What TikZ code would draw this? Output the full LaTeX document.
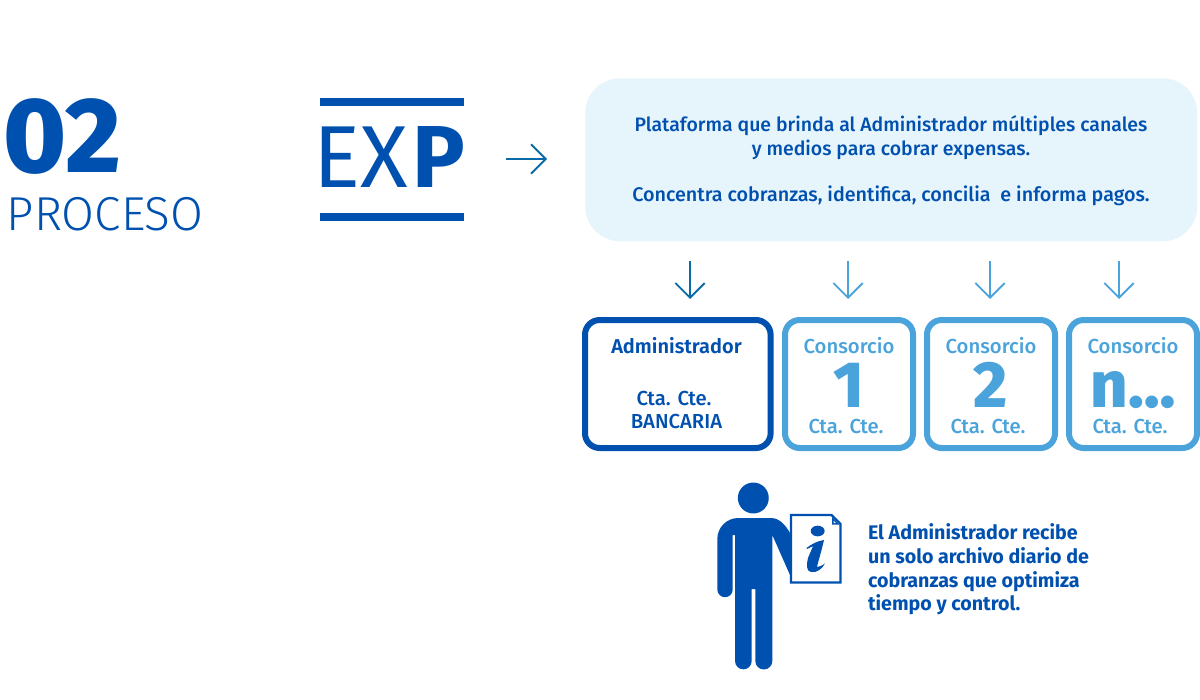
\documentclass[tikz,border=0pt]{standalone}
\usepackage{fontspec}
\setmainfont{Fira Sans}
\newfontfamily\flight{Fira Sans Light}
\newfontfamily\fsemi{Fira Sans SemiBold}
\newfontfamily\fmed{Fira Sans Medium}
\newfontfamily\fxb{Fira Sans ExtraBold}
\usetikzlibrary{arrows.meta}
\definecolor{dblue}{HTML}{0050AF}
\definecolor{lblue}{HTML}{4AA3DA}
\definecolor{panel}{HTML}{E6F4FB}
\definecolor{arrowd}{HTML}{0A6AA8}
\newcommand{\fs}[1]{\fontsize{#1}{#1}\selectfont}
\tikzset{
 x=0.75pt,y=-0.75pt,
 txt/.style={inner sep=0,outer sep=0,text=dblue,align=center},
 acct/.style={draw=dblue,line width=4.5pt,rounded corners=11pt,fill=white,inner sep=0},
 cons/.style={draw=lblue,line width=4.5pt,rounded corners=11pt,fill=white,inner sep=0},
 flow/.style={line width=1.4pt,-{Straight Barb[length=11pt,width=22pt,angle'=90,line width=1.4pt]}},
 rulebar/.style={fill=dblue,draw=none},
}
\begin{document}
\begin{tikzpicture}
\useasboundingbox (0,0) rectangle (1200,700);
% heading
\node[txt,font=\fxb\fs{80},anchor=base west] (num) at (3,172) {02};
\node[txt,font=\flight\fs{35.7},anchor=base west] (proc) at (7,230) {PROCESO};
% EXP
\fill[rulebar] (320,98) rectangle (464,106);
\fill[rulebar] (320,213) rectangle (464,221);
\node[txt,font=\fs{66},anchor=base west] (ex) at (313,187) {EX};
\node[txt,font=\fs{66}\bfseries,anchor=base west] (pp) at (412,187) {P};
% panel
\node[fill=panel,rounded corners=26pt,minimum width=459pt,minimum height=122.25pt,inner sep=0,anchor=north west] (pan) at (585,78) {};
\node[txt,font=\fmed\fs{14.6},anchor=base] (p1) at (891,131) {Plataforma que brinda al Administrador múltiples canales};
\node[txt,font=\fmed\fs{14.6},anchor=base] (p2) at (891,155) {y medios para cobrar expensas.};
\node[txt,font=\fmed\fs{14.8},anchor=base] (p3) at (891,201) {Concentra cobranzas, identifica, concilia\ \ e informa pagos.};
% boxes
\node[acct,minimum width=139.2pt,minimum height=96pt,anchor=north west] (adm) at (582,317) {};
\node[cons,minimum width=96pt,minimum height=96pt,anchor=north west] (c1) at (782,317) {};
\node[cons,minimum width=96pt,minimum height=96pt,anchor=north west] (c2) at (924,317) {};
\node[cons,minimum width=96pt,minimum height=96pt,anchor=north west] (c3) at (1066,317) {};
% arrows
\coordinate (a0s) at (506,159); \coordinate (a0e) at (547,159);
\draw[flow,draw=arrowd] (a0s) -- (a0e);
\foreach \n/\xx/\cc in {s1/690/arrowd,s2/848/lblue,s3/990/lblue,s4/1119/lblue}{
  \coordinate (\n a) at (\xx,261); \coordinate (\n b) at (\xx,299);
  \draw[flow,draw=\cc] (\n a) -- (\n b);
}
% box text
\node[txt,font=\fsemi\fs{15},anchor=base] (t1) at (676.5,353) {Administrador};
\node[txt,font=\fmed\fs{15.2},anchor=base] (t2) at (674,405) {Cta. Cte.};
\node[txt,font=\fmed\fs{15.2},anchor=base] (t3) at (676.5,428) {BANCARIA};
\foreach \n/\xx/\bigt in {c1/849/1,c2/991/2,c3/1133/{n\ldots}}{
  \node[txt,text=lblue,font=\fmed\fs{15.2},anchor=base] (\n t) at (\xx,353) {Consorcio};
  \node[txt,text=lblue,font=\fmed\fs{15.2},anchor=base] (\n u) at (\xx-3,433) {Cta. Cte.};
  \node[txt,text=lblue,font=\fxb\fs{49},anchor=base] (\n b) at (\xx,407) {\bigt};
}
% person
\fill[dblue] (753.3,498) circle (11.6pt);
\fill[dblue]
 (717.3,539) arc (180:270:21) -- (771,518)
 .. controls (780,518) and (786,526) .. (790,533)
 -- (790,575) -- (772.3,535) -- (772.3,661)
 arc (0:180:8.5) -- (755.3,589) -- (751.7,589) -- (751.7,661)
 arc (0:180:8.35) -- (735,535) -- (732.7,535) -- (732.7,589.5)
 arc (0:180:7.7) -- cycle;
% document
\draw[dblue,line width=1.8pt,fill=white,line join=miter]
 (791,515) -- (831.5,515) -- (840.5,524) -- (840.5,582.5) -- (791,582.5) -- cycle;
\fill[dblue] (832,517) -- (839,524.5) -- (832,524.5) -- cycle;
\fill[white] (833.5,520.5) -- (836,523.2) -- (833.5,523.2) -- cycle;
\fill[dblue] (817.7,531) ellipse (5.2pt and 4pt);
\fill[dblue] (806.5,548) .. controls (811,544.5) and (817,541) .. (824,540)
 .. controls (821,553) and (818,562) .. (817,567)
 .. controls (819,567) and (822,565.5) .. (825,563.5)
 .. controls (822,569) and (817,573) .. (811,572)
 .. controls (806,571.5) and (806.5,564) .. (808,558)
 .. controls (810,553) and (812,549) .. (813,546)
 .. controls (811,547) and (809,548) .. (807,549) -- cycle;
% note
\node[txt,font=\fs{14.75}\bfseries,anchor=base west] (n1) at (868,539) {El Administrador recibe};
\node[txt,font=\fs{14.75}\bfseries,anchor=base west] (n2) at (868,563) {un solo archivo diario de};
\node[txt,font=\fs{14.75}\bfseries,anchor=base west] (n3) at (868,587) {cobranzas que optimiza};
\node[txt,font=\fs{14.75}\bfseries,anchor=base west] (n4) at (868,610) {tiempo y control.};
\end{tikzpicture}
\end{document}
